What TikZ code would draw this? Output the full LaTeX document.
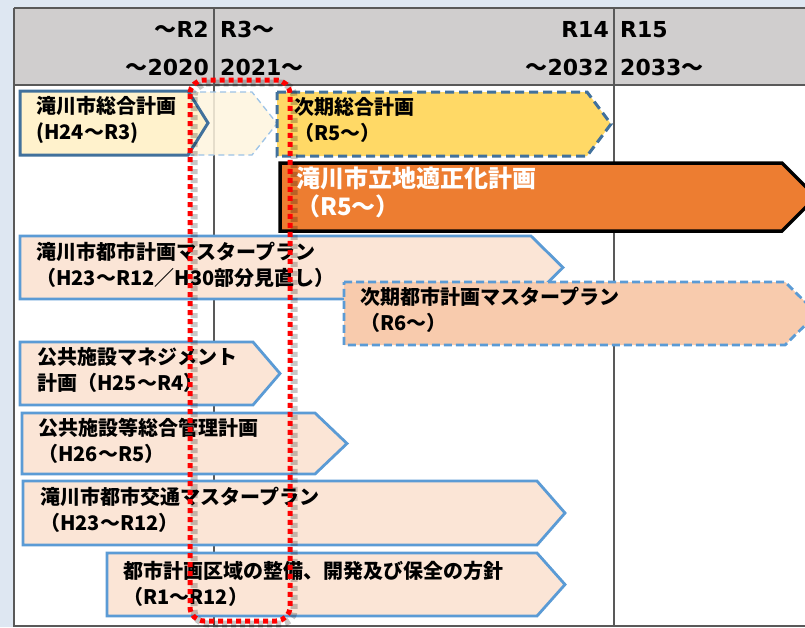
\documentclass[tikz,border=0pt]{standalone}
\usepackage{fontspec}
\setmainfont{Noto Sans CJK JP}
\newfontfamily\jp{Noto Sans CJK JP}
\newfontfamily\hdfont{DejaVu Sans}
\definecolor{bgblue}{HTML}{DEE7F2}
\definecolor{hdrgray}{HTML}{D0CECE}
\definecolor{gridc}{HTML}{595959}
\definecolor{darkblue}{HTML}{41719C}
\definecolor{midblue}{HTML}{5B9BD5}
\definecolor{lightblue}{HTML}{9DC3E6}
\definecolor{ylw}{HTML}{FFF2CC}
\definecolor{gold}{HTML}{FFD966}
\definecolor{orng}{HTML}{ED7D31}
\definecolor{peach}{HTML}{FBE5D6}
\definecolor{peachdk}{HTML}{F8CBAD}
\definecolor{ghostc}{HTML}{FEF5DF}
\newcommand\pentbox[6]{%
  \path[#1] (#2,#3) -- (#5,#3) -- (#6,{(#3+#4)/2}) -- (#5,#4) -- (#2,#4) -- cycle;}
\tikzset{
  grid/.style={draw=gridc, line width=1.2pt},
  hd/.style={font=\hdfont\bfseries\fontsize{22}{26}\selectfont, inner sep=0pt},
  lbl/.style={font=\bfseries\fontsize{20}{26}\selectfont, align=left, inner sep=0pt, anchor=west, text=black},
  bigl/.style={font=\bfseries\fontsize{24}{28}\selectfont, align=left, inner sep=0pt, anchor=west, text=white},
  plan/.style={fill=peach, draw=midblue, line width=2.8pt, line join=miter},
  ghostbox/.style={fill=ghostc, fill opacity=0.85, draw=lightblue, line width=1.3pt, dash pattern=on 6pt off 4pt},
  oldbox/.style={fill=ylw, draw=darkblue, line width=3pt},
  nextbox/.style={fill=gold, draw=darkblue, line width=3pt, dash pattern=on 9pt off 5pt},
  mainbox/.style={fill=orng, draw=black, line width=3.5pt},
  nextplan/.style={fill=peachdk, draw=midblue, line width=2.8pt, dash pattern=on 8pt off 4pt},
  redframe/.style={draw=red, line width=5pt, dash pattern=on 5pt off 4pt, rounded corners=14pt},
  redshadow/.style={draw=black, draw opacity=0.22, line width=7pt, dash pattern=on 5pt off 4pt, rounded corners=14pt}
}
\begin{document}
\begin{tikzpicture}[x=1pt,y=-1pt]
\useasboundingbox (0,0) rectangle (805,627);
\fill[bgblue] (0,0) rectangle (805,627);
\fill[white] (14,85) rectangle (806,626);
\fill[hdrgray] (14,8) rectangle (806,85);
% table lines
\draw[grid] (14,8) -- (806,8);
\draw[grid] (14,85) -- (806,85);
\draw[grid] (14,8) -- (14,626) -- (806,626);
\draw[grid] (214,8) -- (214,626);
\draw[grid] (614,8) -- (614,626);
% header
\node[hd, anchor=base east] (h1) at (209,37) {{\jp\bfseries ～}R2};
\node[hd, anchor=base east] (h2) at (209,75) {{\jp\bfseries ～}2020};
\node[hd, anchor=base west] (h3) at (220,37) {R3{\jp\bfseries ～}};
\node[hd, anchor=base west] (h4) at (220,75) {2021{\jp\bfseries ～}};
\node[hd, anchor=base east] (h5) at (609,37) {R14};
\node[hd, anchor=base east] (h6) at (609,75) {{\jp\bfseries ～}2032};
\node[hd, anchor=base west] (h7) at (620,37) {R15};
\node[hd, anchor=base west] (h8) at (620,75) {2033{\jp\bfseries ～}};
% boxes
\pentbox{ghostbox}{180}{92}{155}{252}{277}
\pentbox{oldbox}{20}{91}{155}{188}{208}
\node[lbl] (t1) at (36,120) {滝川市総合計画\\(H24～R3)};
\pentbox{nextbox}{277}{92}{156}{587}{611}
\node[lbl] (t2) at (294,120) {次期総合計画\\（R5～）};
\pentbox{mainbox}{280}{163}{231}{782}{816}
\node[bigl] (t3) at (296,192) {滝川市立地適正化計画\\（R5～）};
\pentbox{plan}{20}{236}{299}{531}{563}
\node[lbl] (t4) at (36,264.5) {滝川市都市計画マスタープラン\\（H23～R12／H30部分見直し）};
\pentbox{nextplan}{344}{282}{345}{785}{817}
\node[lbl] (t5) at (360,310) {次期都市計画マスタープラン\\（R6～）};
\pentbox{plan}{20}{342}{405}{253}{280}
\node[lbl] (t6) at (37,369.5) {公共施設マネジメント\\計画（H25～R4）};
\pentbox{plan}{22}{413}{474}{315}{347}
\node[lbl] (t7) at (38,441) {公共施設等総合管理計画\\（H26～R5）};
\pentbox{plan}{23}{481}{545}{537}{565}
\node[lbl] (t8) at (40,509.5) {滝川市都市交通マスタープラン\\（H23～R12）};
\pentbox{plan}{107}{553}{616}{537}{565}
\node[lbl] (t9) at (123,584) {都市計画区域の整備、開発及び保全の方針\\（R1～R12）};
% red frame
\draw[redshadow] (194,83) rectangle (294,624);
\draw[redframe] (190,80) rectangle (290,621);
\end{tikzpicture}
\end{document}
